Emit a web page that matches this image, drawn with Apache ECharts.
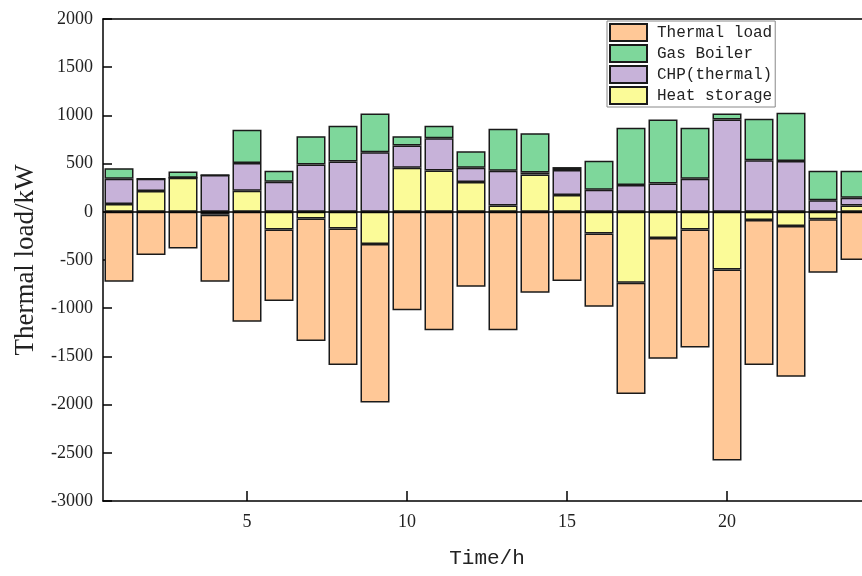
<!DOCTYPE html>
<html>
<head>
<meta charset="utf-8">
<script src="https://cdn.jsdelivr.net/npm/echarts@6/dist/echarts.min.js"></script>
<style>html,body{margin:0;padding:0;background:#fff;overflow:hidden;width:862px;height:576px;}#c{width:872px;height:576px;}</style>
</head>
<body>
<div id="c"></div>
<script>
const hours = ['1','2','3','4','5','6','7','8','9','10','11','12','13','14','15','16','17','18','19','20','21','22','23','24'];
const xTickLabels = [5,10,15,20];
const heatStorage = [80,215,353,-30,218,-183,-69,-172,-335,456,429,308,66,388,173,-224,-736,-273,-183,-598,-86,-148,-76,65];
const chpThermal = [262,127,0,381,287,311,491,523,619,233,335,148,359,20,260,228,277,294,342,958,536,526,121,80];
const gasBoiler = [111,0,66,0,346,114,294,369,402,96,128,171,436,408,31,301,594,664,529,63,429,501,304,280];
const thermalLoad = [-726,-449,-380,-696,-1141,-743,-1272,-1418,-1642,-1020,-1230,-778,-1230,-840,-719,-761,-1155,-1252,-1224,-1981,-1504,-1563,-557,-501];

const colors = {
  'Thermal load': '#FFC897',
  'Gas Boiler': '#7ED79B',
  'CHP(thermal)': '#C7B2D9',
  'Heat storage': '#FBFB98'
};
const serif = '"Liberation Serif", "Times New Roman", serif';
const mono = '"Liberation Mono", "DejaVu Sans Mono", monospace';

function barSeries(name, data, extra) {
  return Object.assign({
    name: name,
    type: 'bar',
    stack: 'total',
    xAxisIndex: 1,
    data: data,
    barWidth: 29,
    itemStyle: { color: colors[name], borderColor: '#1a1a1a', borderWidth: 1.5 }
  }, extra || {});
}

const chart = echarts.init(document.getElementById('c'));
chart.setOption({
  animation: false,
  backgroundColor: '#fff',
  grid: { left: 103, top: 19, bottom: 75, width: 768 },
  legend: {
    orient: 'vertical',
    left: 607, top: 21,
    data: ['Thermal load','Gas Boiler','CHP(thermal)','Heat storage'],
    itemWidth: 37, itemHeight: 17, itemGap: 2,
    padding: [2, 3, 2, 2],
    borderColor: '#888', borderWidth: 1,
    icon: 'rect',
    textStyle: { fontFamily: mono, fontSize: 16, color: '#222', padding: [0,0,0,5] }
  },
  xAxis: [{
    type: 'value',
    min: 0.5, max: 24.5,
    position: 'bottom',
    name: 'Time/h',
    nameLocation: 'middle',
    nameGap: 47,
    nameTextStyle: { fontFamily: mono, fontSize: 21, color: '#222' },
    axisLine: { show: true, onZero: false, lineStyle: { color: '#000', width: 1.5 } },
    axisTick: { show: true, inside: true, length: 10, customValues: xTickLabels,
      lineStyle: { color: '#000', width: 1.5 } },
    axisLabel: { customValues: xTickLabels,
      fontFamily: serif, fontSize: 18, color: '#222', margin: 12 },
    splitLine: { show: false }
  }, {
    type: 'category',
    data: hours,
    position: 'top',
    boundaryGap: true,
    axisLine: { show: true, onZero: false, lineStyle: { color: '#000', width: 1.5 } },
    axisTick: { show: false },
    axisLabel: { show: false },
    splitLine: { show: false }
  }],
  yAxis: {
    type: 'value',
    min: -3000, max: 2000, interval: 500,
    name: 'Thermal load/kW',
    nameLocation: 'middle',
    nameGap: 64,
    nameTextStyle: { fontFamily: serif, fontSize: 27, color: '#222' },
    axisLine: { show: true, onZero: false, lineStyle: { color: '#000', width: 1.5 } },
    axisTick: { show: true, inside: true, length: 9, lineStyle: { color: '#000', width: 1.5 } },
    axisLabel: { fontFamily: serif, fontSize: 18, color: '#222', margin: 10,
      formatter: function (v) { return String(v); } },
    splitLine: { show: false }
  },
  series: [
    barSeries('Heat storage', heatStorage),
    barSeries('CHP(thermal)', chpThermal),
    barSeries('Gas Boiler', gasBoiler),
    barSeries('Thermal load', thermalLoad, {
      markLine: {
        silent: true, symbol: 'none', label: { show: false },
        lineStyle: { color: '#000', type: 'solid', width: 1.5 },
        data: [{ yAxis: 0 }]
      }
    })
  ]
});
</script>
</body>
</html>
